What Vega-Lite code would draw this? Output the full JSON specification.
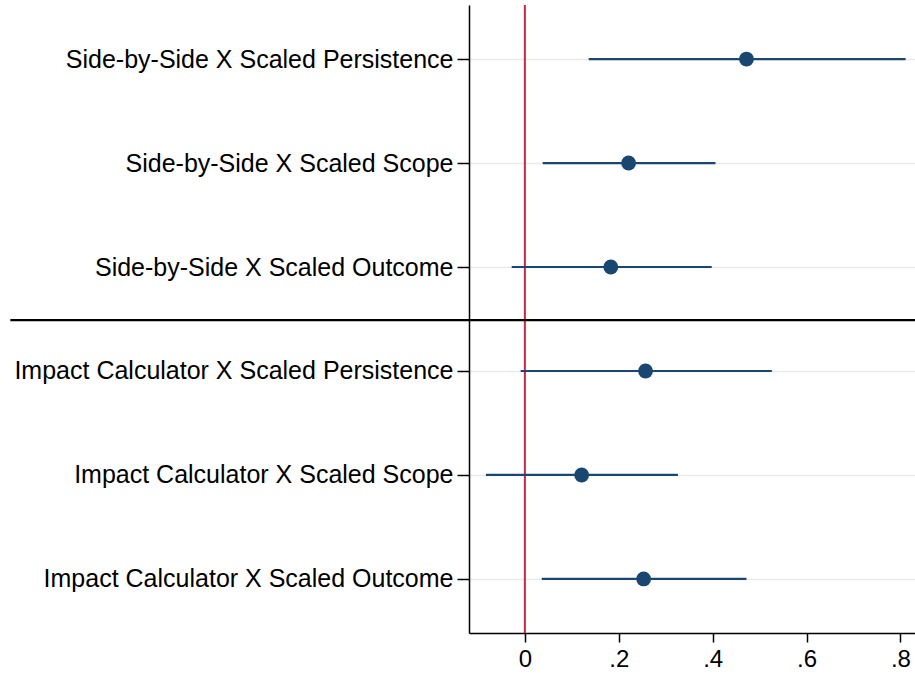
{
  "$schema": "https://vega.github.io/schema/vega-lite/v6.json",
  "width": 446,
  "height": 628,
  "autosize": "none",
  "padding": {"left": 469, "top": 5, "right": 0, "bottom": 44},
  "background": "white",
  "config": {
    "view": {"stroke": null},
    "font": "Liberation Sans"
  },
  "datasets": {
    "coefs": [
      {"term": "Side-by-Side X Scaled Persistence", "row": 1, "est": 0.472, "lo": 0.136, "hi": 0.811},
      {"term": "Side-by-Side X Scaled Scope", "row": 2, "est": 0.221, "lo": 0.038, "hi": 0.406},
      {"term": "Side-by-Side X Scaled Outcome", "row": 3, "est": 0.183, "lo": -0.028, "hi": 0.398},
      {"term": "Impact Calculator X Scaled Persistence", "row": 4, "est": 0.257, "lo": -0.009, "hi": 0.526},
      {"term": "Impact Calculator X Scaled Scope", "row": 5, "est": 0.121, "lo": -0.083, "hi": 0.326},
      {"term": "Impact Calculator X Scaled Outcome", "row": 6, "est": 0.253, "lo": 0.036, "hi": 0.472}
    ]
  },
  "layer": [
    {
      "data": {"values": [{"zero": 0}]},
      "mark": {"type": "rule", "color": "#c8283f", "strokeWidth": 2},
      "encoding": {
        "x": {"field": "zero", "type": "quantitative", "scale": {"domain": [-0.119, 0.831], "nice": false, "zero": false}}
      }
    },
    {
      "data": {"values": [{"from": -1.096, "to": 0.831, "between": 3.51}]},
      "mark": {"type": "rule", "color": "black", "strokeWidth": 2.2, "clip": false},
      "encoding": {
        "x": {"field": "from", "type": "quantitative"},
        "x2": {"field": "to"},
        "y": {"field": "between", "type": "quantitative"}
      }
    },
    {
      "data": {"name": "coefs"},
      "mark": {"type": "rule", "color": "#1a476f", "strokeWidth": 2.2},
      "encoding": {
        "x": {"field": "lo", "type": "quantitative"},
        "x2": {"field": "hi"},
        "y": {"field": "row", "type": "quantitative"}
      }
    },
    {
      "data": {"name": "coefs"},
      "mark": {"type": "point", "filled": true, "opacity": 1, "color": "#1a476f", "size": 220},
      "encoding": {
        "x": {
          "field": "est",
          "type": "quantitative",
          "title": null,
          "axis": {
            "values": [0, 0.2, 0.4, 0.6, 0.8],
            "labelExpr": "datum.value == 0 ? '0' : substring(format(datum.value, '.1f'), 1)",
            "grid": false,
            "domainColor": "black",
            "domainWidth": 1.5,
            "tickColor": "black",
            "tickWidth": 1.5,
            "tickSize": 9,
            "labelFontSize": 24,
            "labelColor": "black",
            "labelPadding": 5,
            "labelFlush": false
          }
        },
        "y": {
          "field": "row",
          "type": "quantitative",
          "title": null,
          "scale": {"domain": [0.48, 6.52], "reverse": true, "nice": false, "zero": false},
          "axis": {
            "values": [1, 2, 3, 4, 5, 6],
            "labelExpr": "['', 'Side-by-Side X Scaled Persistence', 'Side-by-Side X Scaled Scope', 'Side-by-Side X Scaled Outcome', 'Impact Calculator X Scaled Persistence', 'Impact Calculator X Scaled Scope', 'Impact Calculator X Scaled Outcome'][datum.value]",
            "grid": true,
            "gridColor": "#e9e9e9",
            "gridWidth": 1.5,
            "domainColor": "black",
            "domainWidth": 1.5,
            "tickColor": "black",
            "tickWidth": 1.5,
            "tickSize": 12,
            "labelFontSize": 25,
            "labelColor": "black",
            "labelPadding": 4,
            "labelFlush": false,
            "labelLimit": 0
          }
        }
      }
    }
  ]
}
